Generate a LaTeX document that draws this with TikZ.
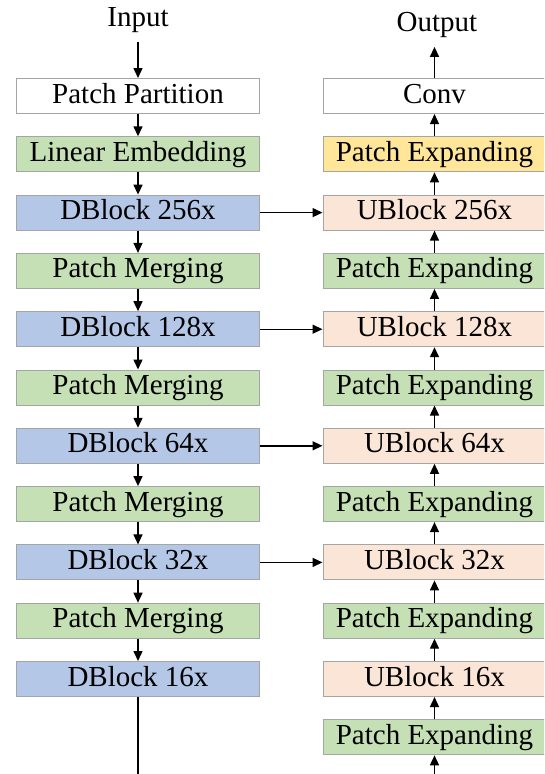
\documentclass[tikz,border=0pt]{standalone}
\usepackage{fontspec}
\setmainfont{Liberation Serif}
\usetikzlibrary{chains,positioning,arrows.meta}
\definecolor{embgreen}{HTML}{C5E0B4}
\definecolor{dblue}{HTML}{B4C7E7}
\definecolor{upeach}{HTML}{FBE5D6}
\definecolor{expyellow}{HTML}{FFE699}
\definecolor{boxgray}{HTML}{A5A5A5}

\begin{document}
\begin{tikzpicture}[x=1pt,y=-1pt]
        \tikzstyle{every node}=[font=\fontsize{29}{34}\selectfont,text height=20pt,text depth=6pt,inner sep=0pt]
        \tikzstyle{blk}=[draw=boxgray,line width=1pt,minimum height=35pt]
        \tikzstyle{lblk}=[blk,minimum width=243pt]
        \tikzstyle{rblk}=[blk,minimum width=223pt]
        \tikzstyle{emb}=[fill=embgreen]
        \tikzstyle{db}=[fill=dblue]
        \tikzstyle{ub}=[fill=upeach]
        \tikzstyle{ex}=[fill=expyellow]
        \tikzstyle{arr}=[line width=1.4pt,-{Triangle[length=10pt,width=9pt]}]

        \clip (0,0) rectangle (544,774);

        \begin{scope}[start chain=1 going below,node distance=22.3pt]
        \node [on chain=1,lblk] (l0) at (138,96) {Patch Partition};
        \node [on chain=1,lblk,emb] (l1) {Linear Embedding};
        \node [on chain=1,lblk,db] (l2) {DBlock 256x};
        \node [on chain=1,lblk,emb] (l3) {Patch Merging};
        \node [on chain=1,lblk,db] (l4) {DBlock 128x};
        \node [on chain=1,lblk,emb] (l5) {Patch Merging};
        \node [on chain=1,lblk,db] (l6) {DBlock 64x};
        \node [on chain=1,lblk,emb] (l7) {Patch Merging};
        \node [on chain=1,lblk,db] (l8) {DBlock 32x};
        \node [on chain=1,lblk,emb] (l9) {Patch Merging};
        \node [on chain=1,lblk,db] (l10) {DBlock 16x};
        \end{scope}

        \begin{scope}[start chain=2 going below,node distance=22.3pt]
        \node [on chain=2,rblk] (r0) at (434.5,96) {Conv};
        \node [on chain=2,rblk,ex] (r1) {Patch Expanding};
        \node [on chain=2,rblk,ub] (r2) {UBlock 256x};
        \node [on chain=2,rblk,emb] (r3) {Patch Expanding};
        \node [on chain=2,rblk,ub] (r4) {UBlock 128x};
        \node [on chain=2,rblk,emb] (r5) {Patch Expanding};
        \node [on chain=2,rblk,ub] (r6) {UBlock 64x};
        \node [on chain=2,rblk,emb] (r7) {Patch Expanding};
        \node [on chain=2,rblk,ub] (r8) {UBlock 32x};
        \node [on chain=2,rblk,emb] (r9) {Patch Expanding};
        \node [on chain=2,rblk,ub] (r10) {UBlock 16x};
        \node [on chain=2,rblk,emb] (r11) {Patch Expanding};
        \end{scope}

        \node (in) at (138,19.7) {Input};
        \node (out) at (437,24.7) {Output};
        \draw [arr,shorten <=9pt] (in) -- (l0);
        \draw [arr,shorten >=9pt] (r0) -- (out.south -| r0.north);

        %down the encoder
        \foreach \i [count=\j] in {0,...,9} {
            \draw [arr] (l\i) -- (l\j);
        };
        %up the decoder
        \foreach \i [count=\j] in {0,...,10} {
            \draw [arr] (r\j) -- (r\i);
        };
        %skip links
        \foreach \i in {2,4,6,8} {
            \draw [arr] (l\i) -- (r\i);
        };

        \coordinate (lend) at (l10 |- 0,780);
        \coordinate (rend) at (r11 |- 0,780);
        \draw [line width=1.4pt] (l10) -- (lend);
        \draw [arr] (rend) -- (r11);
\end{tikzpicture}
\end{document}
